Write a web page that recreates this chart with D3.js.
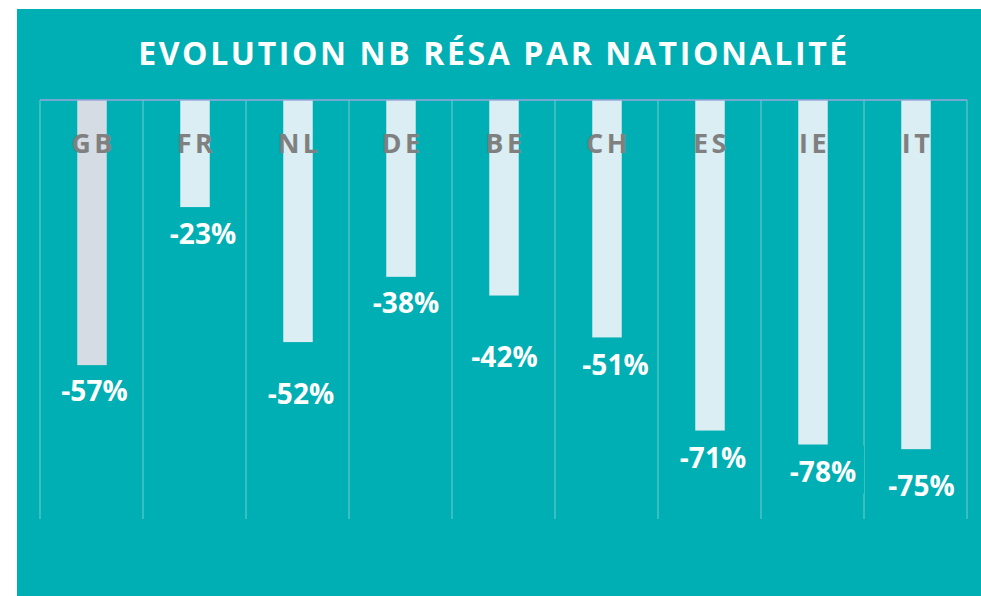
<!DOCTYPE html>
<html>
<head>
<meta charset="utf-8">
<script src="https://cdn.jsdelivr.net/npm/d3@7"></script>
<style>
  html, body { margin: 0; padding: 0; background: #ffffff; }
  svg { display: block; }
  text { font-family: "Open Sans", "DejaVu Sans", sans-serif; }
</style>
</head>
<body>
<svg id="chart" width="981" height="596"></svg>
<script>
const title = "EVOLUTION NB RÉSA PAR NATIONALITÉ";
const categories = ["GB", "FR", "NL", "DE", "BE", "CH", "ES", "IE", "IT"];
const values = [-57, -23, -52, -38, -42, -51, -71, -74, -75];
const labels = ["-57%", "-23%", "-52%", "-38%", "-42%", "-51%", "-71%", "-78%", "-75%"];
const barColors = ["#d6dce4", "#daeef3", "#daeef3", "#daeef3", "#daeef3", "#daeef3", "#daeef3", "#daeef3", "#daeef3"];

// manual label nudges (layout only, as placed in the original chart)
const labelNudge = {
  GB: [2.5, 0], FR: [8, 1], NL: [3, 26], DE: [5, 0], BE: [0.5, 35],
  CH: [8.5, 2], ES: [3, 1], IE: [10, 1], IT: [5.5, 11]
};

const teal = "#00afb3";
const svg = d3.select("#chart");

svg.append("rect").attr("x", 17).attr("y", 9).attr("width", 981 - 17).attr("height", 596 - 9).attr("fill", teal);

svg.append("text")
  .attr("x", 494).attr("y", 65)
  .attr("text-anchor", "middle")
  .attr("fill", "#ffffff")
  .attr("font-size", 32)
  .attr("font-weight", 700)
  .attr("letter-spacing", 2.6)
  .text(title);

const x = d3.scaleBand().domain(categories).range([40, 967]).paddingInner(0).paddingOuter(0);
const y = d3.scaleLinear().domain([0, -90]).range([100, 519]);

// vertical gridlines at category boundaries
const bounds = categories.map(c => x(c)).concat([x.range()[1]]);
svg.append("g").selectAll("line").data(bounds).join("line")
  .attr("x1", d => d).attr("x2", d => d)
  .attr("y1", y(0)).attr("y2", y(-90))
  .attr("stroke", "#4cc4c7").attr("stroke-width", 1.5);

const bw = 29.5;
const cx = c => x(c) + x.bandwidth() / 2 + 0.5;

svg.append("g").selectAll("rect").data(categories).join("rect")
  .attr("x", (c) => cx(c) - bw / 2)
  .attr("y", y(0))
  .attr("width", bw)
  .attr("height", (c, i) => y(values[i]) - y(0))
  .attr("fill", (c, i) => barColors[i]);

// top axis line
svg.append("line")
  .attr("x1", 40).attr("x2", 967).attr("y1", y(0)).attr("y2", y(0))
  .attr("stroke", "#9aa6dc").attr("stroke-width", 1.5);

// category labels
svg.append("g").selectAll("text").data(categories).join("text")
  .attr("x", c => cx(c) + 1.5)
  .attr("y", 152.5)
  .attr("text-anchor", "middle")
  .attr("fill", "#808080")
  .attr("font-size", 27)
  .attr("font-weight", 700)
  .attr("letter-spacing", 3.5)
  .text(c => c);

// data labels with teal background
const lx = c => cx(c) + labelNudge[c][0];
const ly = (c, i) => y(values[i]) + 36 + labelNudge[c][1];
const lg = svg.append("g");
lg.selectAll("rect").data(categories).join("rect")
  .attr("x", c => lx(c) - 41)
  .attr("y", (c, i) => ly(c, i) - 36)
  .attr("width", 82).attr("height", 48)
  .attr("fill", teal);
lg.selectAll("text").data(categories).join("text")
  .attr("x", c => lx(c))
  .attr("y", (c, i) => ly(c, i))
  .attr("text-anchor", "middle")
  .attr("fill", "#ffffff")
  .attr("font-size", 28)
  .attr("font-weight", 700)
  .text((c, i) => labels[i]);
</script>
</body>
</html>
